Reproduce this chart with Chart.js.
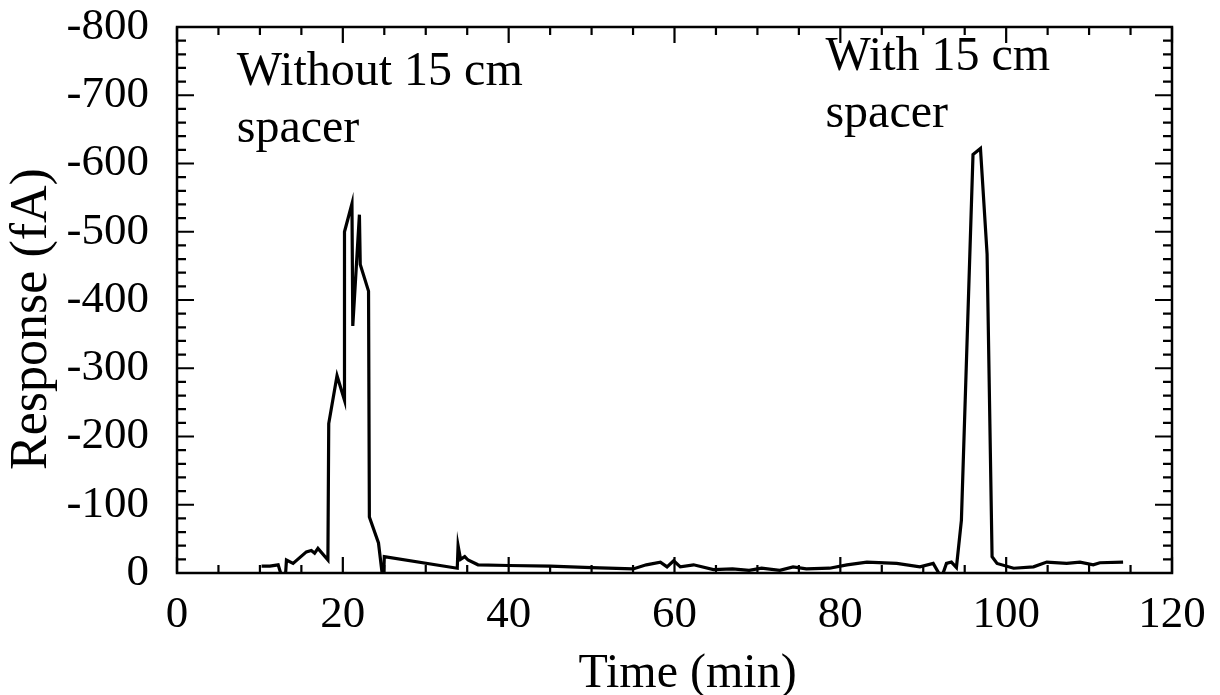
<!DOCTYPE html>
<html>
<head>
<meta charset="utf-8">
<script src="https://cdn.jsdelivr.net/npm/chart.js@4"></script>
<style>
html,body{margin:0;padding:0;background:#fff;}
#wrap{width:1220px;height:695px;}
</style>
</head>
<body>
<div id="wrap"><canvas id="c" width="1220" height="695"></canvas></div>
<script>
const times = [10.2,11.2,12.2,13.0,13.2,14.0,15.6,16.2,16.6,17.0,18.2,18.3,19.3,20.2,20.2,21.1,21.2,22.0,22.1,23.1,23.2,24.3,24.9,25.0,33.8,33.9,34.2,34.7,35.1,36.3,40,45,50,55,56.6,58.3,59.1,59.9,60.7,62.3,64.7,67,69,70.5,72.7,74.3,75.9,78.7,80.8,83.2,86.8,89.6,91.2,92.2,92.8,93.4,94.0,94.6,96.0,96.9,97.7,98.3,98.9,100.9,103.3,104.9,107.3,108.9,110.5,111.3,114.1];
const response = [-10,-10,-12,20,-19,-14,-31,-33,-29,-36,-19,-219,-289,-253,-500,-541,-362,-525,-452,-413,-82,-44,17,-24,-7,-40,-20,-24,-19,-12,-11,-10,-8,-6,-12,-16,-9,-18,-9,-12,-5,-6,-4,-7,-4,-9,-6,-7,-12,-16,-14,-9,-14,7,-14,-16,-8,-77,-613,-622,-467,-24,-14,-7,-9,-16,-14,-16,-12,-15,-16];
const xTickValues = [0,20,40,60,80,100,120];
const yTickValues = [0,-100,-200,-300,-400,-500,-600,-700,-800];
const annotations = [
  {x:7.2, y:-715, text:'Without 15 cm'},
  {x:7.2, y:-632, text:'spacer'},
  {x:78.2, y:-737, text:'With 15 cm'},
  {x:78.2, y:-654, text:'spacer'}
];
const xTitle = 'Time (min)';
const yTitle = 'Response (fA)';

const FONT = "'Liberation Serif', 'Times New Roman', serif";

const framePlugin = {
  id: 'frame',
  afterDraw(chart) {
    const {ctx, chartArea: a, scales: {x, y}} = chart;
    ctx.save();
    ctx.strokeStyle = '#000';
    ctx.lineWidth = 2.5;
    ctx.strokeRect(a.left, a.top, a.right - a.left, a.bottom - a.top);
    ctx.lineWidth = 2.2;
    ctx.beginPath();
    for (let v = 0; v <= 120; v += 5) {
      const px = x.getPixelForValue(v);
      const len = v % 20 === 0 ? 16 : 8;
      ctx.moveTo(px, a.bottom); ctx.lineTo(px, a.bottom - len);
      ctx.moveTo(px, a.top); ctx.lineTo(px, a.top + len);
    }
    for (let v = 0; v >= -800; v -= 20) {
      const py = y.getPixelForValue(v);
      const len = v % 100 === 0 ? 17 : 9;
      ctx.moveTo(a.left, py); ctx.lineTo(a.left + len, py);
      ctx.moveTo(a.right, py); ctx.lineTo(a.right - len, py);
    }
    ctx.stroke();
    ctx.fillStyle = '#000';
    ctx.font = '48px ' + FONT;
    ctx.textBaseline = 'alphabetic';
    ctx.textAlign = 'left';
    annotations.forEach(t => {
      ctx.fillText(t.text, x.getPixelForValue(t.x), y.getPixelForValue(t.y));
    });
    // axis titles
    ctx.textAlign = 'center';
    ctx.font = '48px ' + FONT;
    ctx.fillText(xTitle, (a.left + a.right) / 2 + 13, 687);
    ctx.save();
    ctx.font = '52px ' + FONT;
    ctx.translate(46, (a.top + a.bottom) / 2 + 19);
    ctx.rotate(-Math.PI / 2);
    ctx.fillText(yTitle, 0, 0);
    ctx.restore();
    ctx.restore();
  }
};

new Chart(document.getElementById('c'), {
  type: 'line',
  data: {
    datasets: [{
      data: times.map((t, i) => ({x: t, y: response[i]})),
      borderColor: '#000',
      borderWidth: 3.2,
      pointRadius: 0,
      tension: 0,
      fill: false
    }]
  },
  options: {
    responsive: false,
    animation: false,
    layout: {padding: {top: 27, right: 48, left: 0, bottom: 0}},
    plugins: {legend: {display: false}, tooltip: {enabled: false}},
    scales: {
      x: {
        type: 'linear', min: 0, max: 120,
        afterBuildTicks: s => { s.ticks = xTickValues.map(v => ({value: v})); },
        afterFit: s => { s.height = 122; s.paddingLeft = 0; s.paddingRight = 0; },
        grid: {display: false, drawTicks: false},
        border: {display: false},
        ticks: {color: '#000', font: {family: FONT, size: 45}, padding: 15, maxRotation: 0},
        title: {display: false}
      },
      y: {
        type: 'linear', min: -800, max: 0, reverse: true,
        afterBuildTicks: s => { s.ticks = yTickValues.map(v => ({value: v})); },
        afterFit: s => { s.width = 177; s.paddingTop = 0; s.paddingBottom = 0; },
        grid: {display: false, drawTicks: false},
        border: {display: false},
        ticks: {color: '#000', font: {family: FONT, size: 45}, padding: 28},
        title: {display: false}
      }
    }
  },
  plugins: [framePlugin]
});
</script>
</body>
</html>
